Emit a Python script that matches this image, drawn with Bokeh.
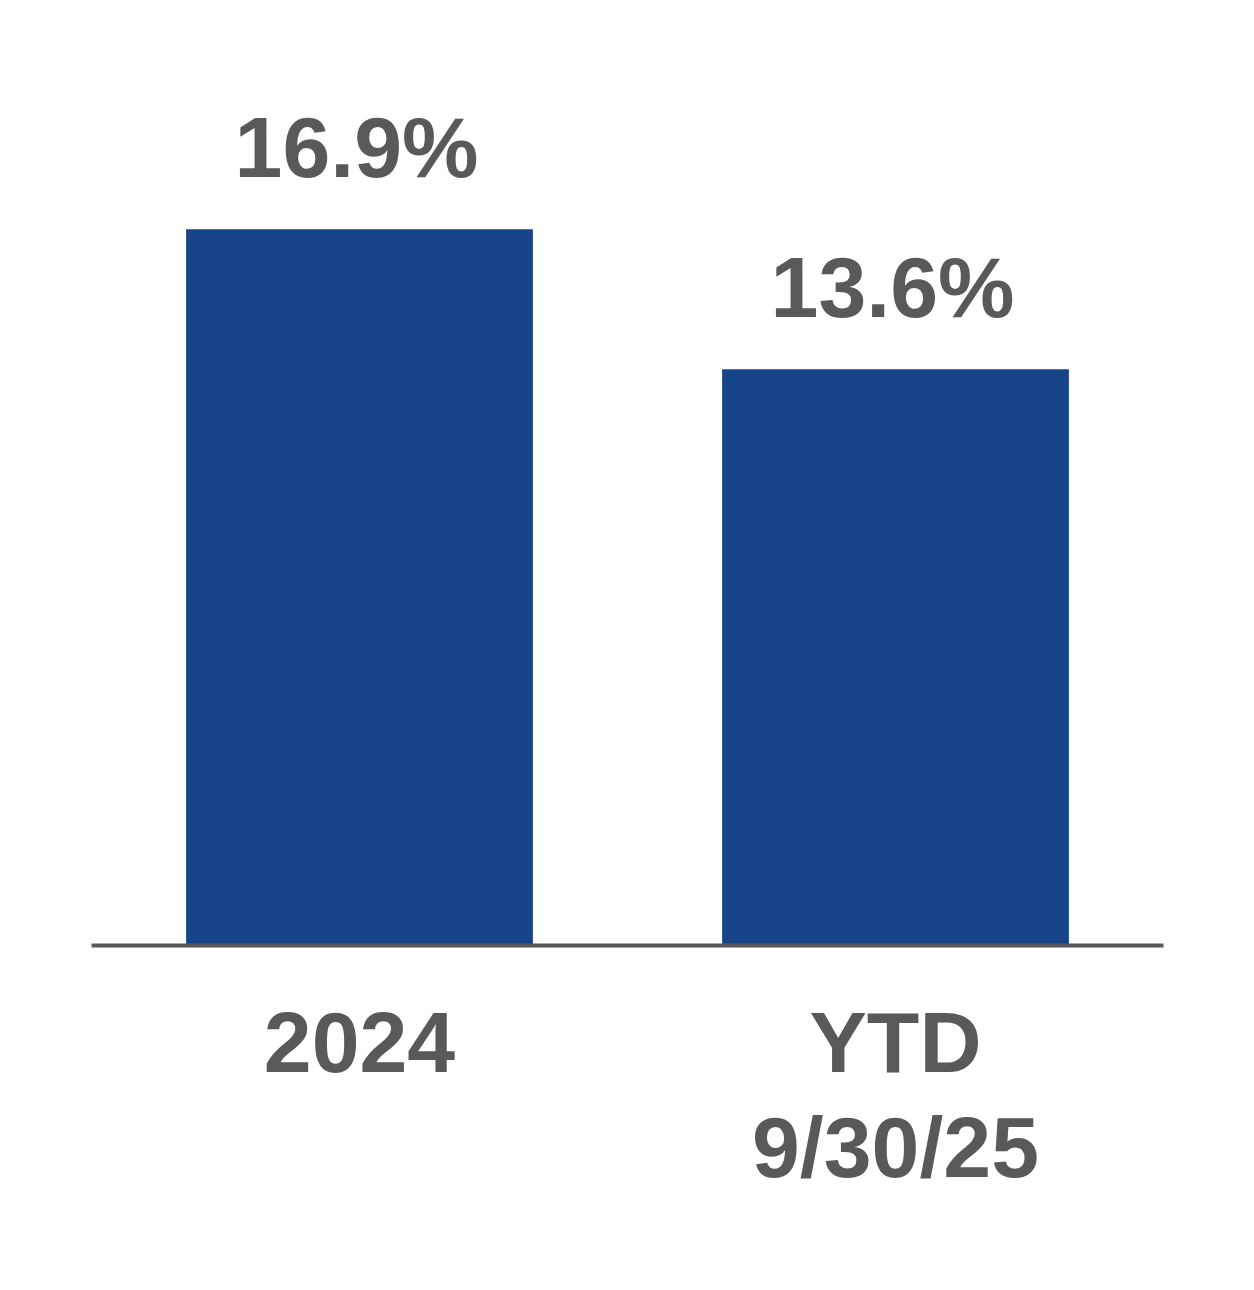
from bokeh.plotting import figure
from bokeh.models import ColumnDataSource, FactorRange, Range1d
from bokeh.core.properties import value
from bokeh.embed import file_html
from bokeh.resources import INLINE

categories = ["2024", "YTD\n9/30/25"]
values = [16.9, 13.6]
value_labels = ["16.9%", "13.6%"]

BAR = "#174489"
GRAY = "#595959"
FONT = "Liberation Sans"

src = ColumnDataSource(dict(cat=categories, val=values, lab=value_labels))

p = figure(
    width=1238, height=1274,
    x_range=FactorRange(*categories, range_padding=0),
    y_range=Range1d(0, 22.3),
    output_backend="svg", toolbar_location=None,
    min_border_left=91, min_border_right=75, min_border_top=0, min_border_bottom=329,
)
p.outline_line_color = None
p.background_fill_color = "white"
p.border_fill_color = "white"
p.grid.visible = False
p.yaxis.visible = False

p.vbar(x="cat", top="val", width=0.647, source=src, fill_color=BAR, line_color=None)
p.text(x="cat", y="val", text="lab", source=src, text_align="center", text_baseline="alphabetic",
       x_offset=-3, y_offset=-82, text_font=value(FONT), text_font_style="bold",
       text_font_size="86px", text_color=GRAY)

ax = p.xaxis[0]
ax.axis_line_color = GRAY
ax.axis_line_width = 4
ax.major_tick_line_color = None
ax.minor_tick_line_color = None
ax.major_label_text_font = FONT
ax.major_label_text_font_style = "bold"
ax.major_label_text_font_size = "86px"
ax.major_label_text_color = GRAY
ax.major_label_text_line_height = 1.1
ax.major_label_standoff = 42

open("out.html", "w").write(file_html(p, INLINE))
